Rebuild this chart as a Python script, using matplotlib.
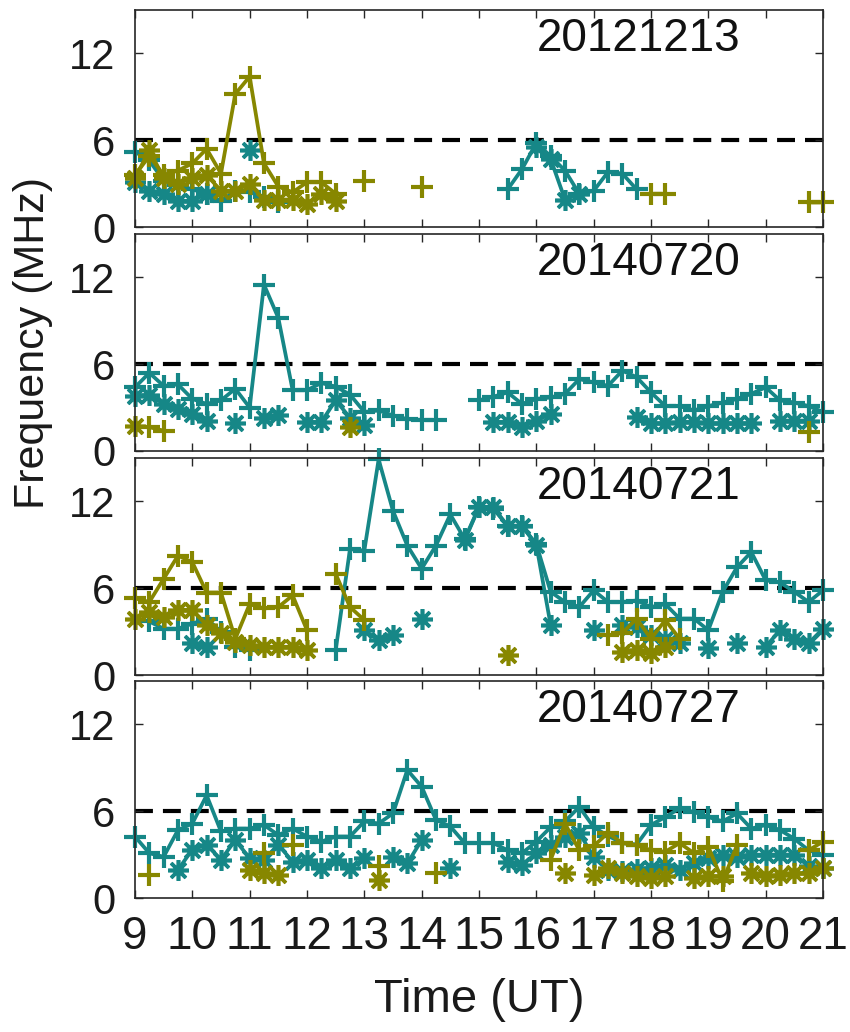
import numpy as np
import matplotlib
matplotlib.use("Agg")
import matplotlib.pyplot as plt
from matplotlib import font_manager

# ---------------------------------------------------------------- data
TEAL = "#168787"
OLIVE = "#878700"

HOURS = list(range(9, 22))
FREQ_TICKS = [0, 6, 12]
THRESHOLD_MHZ = 6
STEP_H = 0.25  # 15-minute observation cadence

DATES = ["20121213", "20140720", "20140721", "20140727"]

# Each series is a list of runs: (start hour, consecutive 15-min values).
# A run is drawn as one connected polyline.

# 2012-12-13
D1_TEAL_PLUS = [(9.0, [5.2, 4.6, 3.2, 2.9, 2.6, 2.3, 1.8, 2.5, 2.4, 2.1, 1.7]),
                (15.5, [2.6, 4.0, 5.8, 4.9, 3.9, 2.3, 2.5, 3.8, 3.7, 2.6])]
D1_TEAL_STAR = [(9.0, [3.1, 2.5, 2.3, 1.8, 1.8, 2.3]),
                (11.0, [5.3]),
                (16.0, [5.5, 4.7, 1.9, 2.3])]
D1_OLIVE_PLUS = [(9.0, [3.6, 4.9, 3.6, 3.9, 4.4, 5.4, 3.7, 9.2, 10.4, 4.4, 2.8, 2.4, 3.1, 3.1, 2.3]),
                 (13.0, [3.2]), (14.0, [2.75]),
                 (18.0, [2.3, 2.3]), (20.75, [1.7, 1.7])]
D1_OLIVE_STAR = [(9.0, [3.4, 5.3, 3.4, 3.0, 3.4, 3.6, 2.5, 2.5, 3.0, 1.9, 1.9, 1.9, 1.6, 2.3, 1.8])]

# 2014-07-20
D2_TEAL_PLUS = [(9.0, [4.4, 5.4, 4.5, 4.6, 3.6, 3.25, 3.5, 4.3, 3.0, 11.5, 9.2, 4.2, 4.2,
                       4.7, 4.45, 3.9, 2.7, 2.8, 2.45, 2.2, 2.15, 2.15]),
                (15.0, [3.5, 3.75, 4.05, 3.25, 3.6, 3.7, 3.95, 4.97, 4.74, 4.5, 5.55, 5.1, 4.05,
                        3.1, 3.1, 2.8, 3.1, 3.35, 3.6, 3.95, 4.4, 3.5, 3.35, 3.1, 2.7])]
D2_TEAL_STAR = [(9.0, [3.8, 3.9, 3.25, 2.9, 2.55, 2.1]),
                (10.75, [1.9]),
                (11.25, [2.3, 2.5]),
                (12.0, [2.0, 2.0, 3.5, 2.3, 1.8]),
                (15.25, [2.0, 2.0, 1.65, 2.1, 2.55]),
                (17.75, [2.35, 1.9, 1.9, 2.0, 2.0, 1.9, 1.9, 1.9, 1.9]),
                (20.25, [2.1, 2.1, 2.1])]
D2_OLIVE_PLUS = [(9.25, [1.65, 1.4]), (20.75, [1.3])]
D2_OLIVE_STAR = [(9.0, [1.75]), (12.75, [1.65])]

# 2014-07-21
D3_TEAL_PLUS = [(9.25, [3.7, 3.2, 3.2, 3.55, 3.9, 3.0, 1.95, 1.7]),
                (12.5, [1.7, 8.7, 8.6, 14.9, 11.35, 8.95, 7.35, 8.95, 11.1, 9.4, 11.6, 11.5,
                        10.3, 10.3, 9.05, 5.75, 5.05, 4.7, 5.85, 5.05, 5.05, 5.15, 4.7, 4.9,
                        3.9, 3.9, 3.1, 5.75, 7.45, 8.5, 6.55, 6.4, 5.75, 5.05, 5.85])]
D3_TEAL_STAR = [(10.0, [2.2, 1.95]),
                (13.0, [3.1, 2.4, 2.75]),
                (14.0, [3.9]),
                (14.75, [9.3, 11.6, 11.6, 10.3, 10.3, 9.0, 3.45]),
                (17.0, [3.1]),
                (17.5, [3.45, 3.3, 2.75, 2.5, 2.2]),
                (19.0, [1.85]), (19.5, [2.2]),
                (20.0, [1.95, 3.1, 2.5, 2.2, 3.2])]
D3_OLIVE_PLUS = [(9.0, [5.3, 5.05, 6.65, 8.25, 7.8, 5.7, 5.7, 2.5, 4.9, 4.6, 4.7, 5.5, 3.1]),
                 (12.5, [7.0, 4.7, 3.8]),
                 (17.25, [2.75, 2.9, 3.9, 2.5, 3.8, 2.5])]
D3_OLIVE_STAR = [(9.0, [3.9, 4.35, 4.0, 4.5, 4.5, 3.45, 2.9, 2.3, 2.05, 1.95, 1.95, 1.95, 1.7]),
                 (15.5, [1.4]),
                 (17.5, [1.6, 1.75, 1.5, 1.95])]

# 2014-07-27
D4_TEAL_PLUS = [(9.0, [4.25, 3.1, 2.85, 4.7, 5.15, 7.1, 4.6, 4.8, 4.8, 5.05, 4.35, 4.8, 4.25,
                       3.9, 4.25, 4.25, 5.3, 5.15, 5.85, 8.85, 7.7, 5.4, 4.95, 3.8, 3.8, 3.8,
                       3.3, 3.1, 3.9, 4.9, 5.3, 6.3, 4.9, 4.3, 3.8, 3.7, 5.05, 5.6, 6.2, 5.95,
                       5.6, 5.3, 5.85, 4.8, 5.05, 4.7, 4.1, 3.3, 3.0])]
D4_TEAL_STAR = [(9.75, [1.95, 3.35, 3.7, 2.65, 4.0, 2.75, 2.65, 3.7, 2.5, 2.65, 2.05, 2.65,
                        2.05, 2.75]),
                (13.5, [2.85, 2.4, 4.0]),
                (14.5, [2.05]),
                (15.5, [2.5, 2.3, 3.1, 3.65, 4.25, 4.5, 2.85, 1.95, 1.85, 2.0, 2.1, 2.3,
                        1.95, 2.4, 2.75, 3.0, 2.85, 3.0, 3.0, 3.0, 3.0, 2.2, 2.05])]
D4_OLIVE_PLUS = [(9.25, [1.6]), (11.25, [3.1]), (11.75, [3.7]), (13.25, [2.2]), (14.25, [1.7]),
                 (16.25, [2.65, 5.15, 3.3, 3.6, 4.5, 3.8, 3.65, 3.3, 3.2, 3.8, 3.1, 3.55,
                          1.15, 3.65]),
                 (20.75, [3.3, 3.9])]
D4_OLIVE_STAR = [(11.0, [1.95, 1.7, 1.6]), (13.25, [1.25]), (16.5, [1.7]),
                 (17.0, [1.6, 2.05, 1.7, 1.5, 1.4, 1.5]),
                 (18.75, [1.4, 1.5, 1.5]),
                 (19.75, [1.7, 1.5, 1.6, 1.7, 1.7, 2.05])]

PANELS = [
    (D1_TEAL_PLUS, D1_TEAL_STAR, D1_OLIVE_PLUS, D1_OLIVE_STAR),
    (D2_TEAL_PLUS, D2_TEAL_STAR, D2_OLIVE_PLUS, D2_OLIVE_STAR),
    (D3_TEAL_PLUS, D3_TEAL_STAR, D3_OLIVE_PLUS, D3_OLIVE_STAR),
    (D4_TEAL_PLUS, D4_TEAL_STAR, D4_OLIVE_PLUS, D4_OLIVE_STAR),
]


# ---------------------------------------------------------------- helpers
def runs_to_xy(runs):
    xs, ys = [], []
    for start, vals in runs:
        for k, v in enumerate(vals):
            xs.append(start + STEP_H * k)
            ys.append(v)
        xs.append(np.nan)
        ys.append(np.nan)
    return np.array(xs), np.array(ys)


def font_available(name):
    try:
        font_manager.findfont(font_manager.FontProperties(family=name),
                              fallback_to_default=False)
        return True
    except ValueError:
        return False


MAIN_FONT = "Liberation Sans"
NARROW_FONT = "Liberation Sans Narrow" if font_available("Liberation Sans Narrow") else MAIN_FONT
plt.rcParams["font.family"] = [MAIN_FONT, "DejaVu Sans"]

AXIS_COLOR = "#262626"
STAR = (8, 2, 0)  # eight-spoke asterisk

# ---------------------------------------------------------------- figure
fig = plt.figure(figsize=(8.5, 10.32), dpi=100)

left, width, height = 0.1588, 0.8094, 0.2103
bottoms = [0.7800, 0.5630, 0.3459, 0.1298]

for i, (runs, date) in enumerate(zip(PANELS, DATES)):
    ax = fig.add_axes([left, bottoms[i], width, height])
    tp, ts, op, os_ = runs

    ax.axhline(THRESHOLD_MHZ, color="black", lw=3, dashes=(4.3, 2.4), zorder=1)

    style = dict(lw=2.7, clip_on=False)
    x, y = runs_to_xy(tp)
    ax.plot(x, y, color=TEAL, marker="+", ms=16, mew=3.0, zorder=3, **style)
    x, y = runs_to_xy(ts)
    ax.plot(x, y, color=TEAL, marker=STAR, ms=15, mew=2.6, zorder=3, **style)
    x, y = runs_to_xy(op)
    ax.plot(x, y, color=OLIVE, marker="+", ms=16, mew=3.0, zorder=4, **style)
    x, y = runs_to_xy(os_)
    ax.plot(x, y, color=OLIVE, marker=STAR, ms=15, mew=2.6, zorder=4, **style)

    ax.set_xlim(HOURS[0], HOURS[-1])
    ax.set_ylim(0, 15)
    ax.set_xticks(HOURS)
    ax.set_yticks(FREQ_TICKS)
    ax.set_yticklabels([str(t) for t in FREQ_TICKS], fontsize=30, family=MAIN_FONT)
    if i == len(DATES) - 1:
        ax.set_xticklabels([str(h) for h in HOURS], fontsize=33, family=NARROW_FONT)
    else:
        ax.set_xticklabels([])

    ax.tick_params(direction="in", top=True, right=True, length=6, width=1,
                   color=AXIS_COLOR, labelcolor="#1a1a1a")
    ax.tick_params(axis="y", pad=14)
    ax.tick_params(axis="x", pad=12)
    for sp in ax.spines.values():
        sp.set_color(AXIS_COLOR)
        sp.set_linewidth(1.2)
        sp.set_zorder(5)

    ax.text(16.0, 13.0, date, fontsize=33, ha="left", va="center", color="#111111")

fig.text(33 / 850, 1 - 343 / 1032, "Frequency (MHz)", rotation=90, fontsize=31,
         ha="center", va="center", color="#1a1a1a")
fig.text(479 / 850, 1 - 1000 / 1032, "Time (UT)", fontsize=34,
         ha="center", va="center", color="#1a1a1a")

fig.savefig("out.png", dpi=100, facecolor="white")
